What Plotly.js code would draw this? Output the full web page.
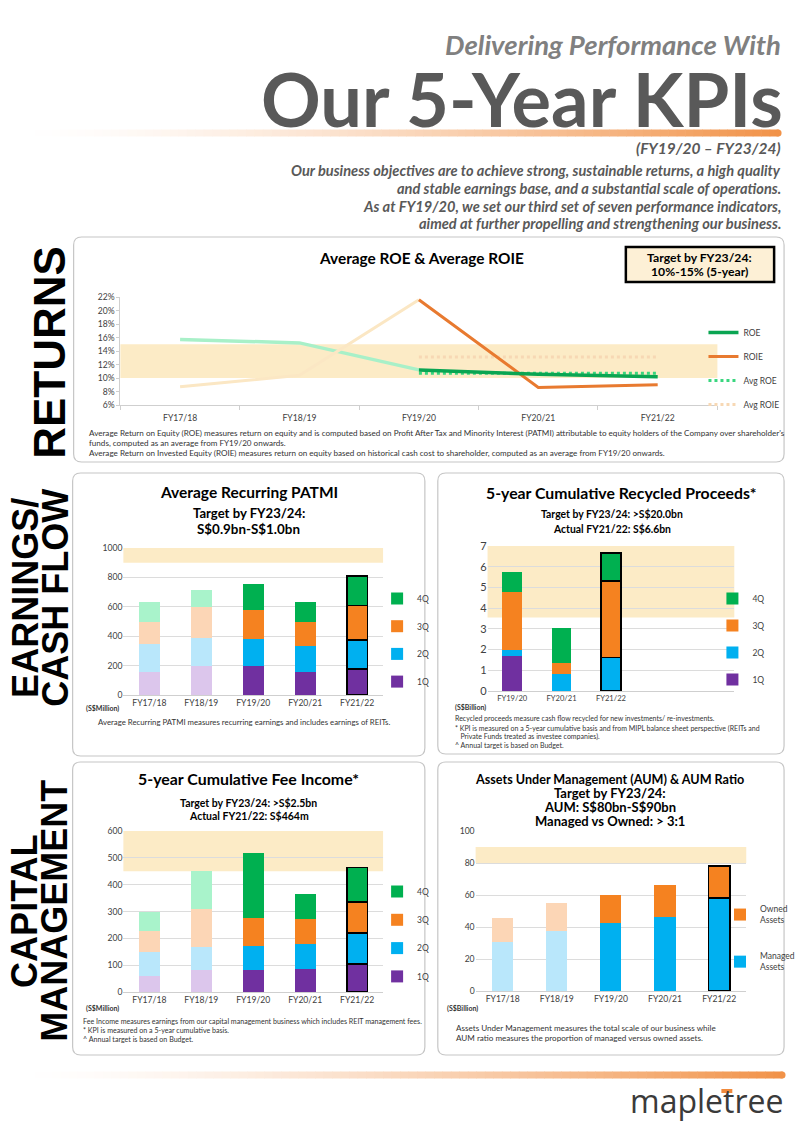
<!DOCTYPE html>
<html><head><meta charset="utf-8">
<script src="https://cdn.plot.ly/plotly-3.0.1.min.js"></script>
<style>html,body{margin:0;padding:0;background:#fff}#chart{width:800px;height:1132px}</style>
</head><body><div id="chart"></div>
<script>
// ---------------- DATA ----------------
const years = ['FY17/18','FY18/19','FY19/20','FY20/21','FY21/22'];
const roe = [15.7, 15.2, 11.2, 10.55, 10.2];
const roie = [8.7, 10.4, 21.6, 8.6, 9.0];
const avgRoe = [null, null, 10.7, 10.7, 10.7];
const avgRoie = [null, null, 13.1, 13.1, 13.1];
const roeTarget = [10, 15];

const patmi1Q = [159, 200, 198, 159, 175];
const patmi2Q = [189, 191, 182, 175, 200];
const patmi3Q = [152, 207, 200, 166, 234];
const patmi4Q = [132, 118, 175, 134, 202];
const patmiTarget = [900, 1000];

const recYears = ['FY19/20','FY20/21','FY21/22'];
const rec1Q = [1.69, 0, 0];
const rec2Q = [0.29, 0.82, 1.61];
const rec3Q = [2.79, 0.55, 3.70];
const rec4Q = [0.96, 1.67, 1.34];
const recTarget = [3.55, 7];

const fee1Q = [61, 83, 83, 87, 104];
const fee2Q = [88, 83, 87, 92, 115];
const fee3Q = [78, 144, 105, 94, 116];
const fee4Q = [73, 141, 243, 93, 129];
const feeTarget = [450, 600];

const aumManaged = [30.7, 37.4, 42.2, 46.3, 58.2];
const aumOwned = [15.2, 17.7, 17.7, 19.9, 20.1];
const aumTarget = [80, 90];

const histCount = 2; // years before the FY19/20 KPI period (drawn faded)

// ---------------- STYLE ----------------
const C = {
  q1:'#7030a0', q1l:'#dcc6ec', q2:'#00b0f0', q2l:'#b9e7fb',
  q3:'#f58220', q3l:'#fcd6b6', q4:'#00b050', q4l:'#a9f3cb',
  band:'#fcebc6', grid:'#dcdcdc', axis:'#cfcfcf', text:'#404040'
};
const W = 800, H = 1132;
const PX = x => x / W, PY = y => 1 - y / H;
const FONT = 'Lato, "Open Sans", sans-serif';

const shapes = [], annotations = [], traces = [];

function panel(x0, y0, x1, y1, r) {
  r = r || 8;
  const a = PX(x0), b = PX(x1), c = PY(y0), d = PY(y1), rx = r / W, ry = r / H;
  const path = `M${a+rx},${c} L${b-rx},${c} Q${b},${c} ${b},${c-ry} L${b},${d+ry} Q${b},${d} ${b-rx},${d} L${a+rx},${d} Q${a},${d} ${a},${d+ry} L${a},${c-ry} Q${a},${c} ${a+rx},${c} Z`;
  shapes.push({type:'path', xref:'paper', yref:'paper', path, line:{color:'#c6c6c6', width:1.2}, fillcolor:'rgba(0,0,0,0)', layer:'below'});
}
function band(xa, ya, rng) {
  shapes.push({type:'rect', xref:xa+' domain', yref:ya, x0:0, x1:1, y0:rng[0], y1:rng[1], fillcolor:C.band, line:{width:0}, layer:'below'});
}
function gradBar(x0, x1, yc, h) {
  const N = 90;
  for (let i = 0; i < N; i++) {
    const t = (i + 0.5) / N, a = Math.pow(t, 1.5);
    const r = Math.round(255 + (241 - 255) * a), g = Math.round(255 + (146 - 255) * a), b = Math.round(255 + (72 - 255) * a);
    shapes.push({type:'rect', xref:'paper', yref:'paper', x0:PX(x0 + (x1 - x0) * i / N), x1:PX(x0 + (x1 - x0) * (i + 1) / N + 0.6),
      y0:PY(yc + h / 2), y1:PY(yc - h / 2), fillcolor:`rgb(${r},${g},${b})`, line:{width:0}, layer:'below'});
  }
  shapes.push({type:'circle', xref:'paper', yref:'paper', x0:PX(x1 - h / 2), x1:PX(x1 + h / 2), y0:PY(yc + h / 2), y1:PY(yc - h / 2), fillcolor:'rgb(241,146,72)', line:{width:0}, layer:'below'});
}
function txt(text, x, y, o) {
  o = o || {};
  const xa = o.xa || 'center';
  annotations.push({xref:'paper', yref:'paper', x:PX(x), y:PY(y), text, showarrow:false,
    xanchor:xa, yanchor:o.ya || 'middle', align:o.align || (xa === 'center' ? 'center' : xa),
    textangle:o.angle || 0, borderpad:0,
    font:Object.assign({family:FONT, size:10, color:'#000'}, o.font || {})});
}
function stack(xa, ya, cats, series, legendId, nHist, width) {
  series.forEach((s, i) => {
    if (nHist > 0) traces.push({type:'bar', xaxis:xa, yaxis:ya, x:cats.slice(0, nHist), y:s.vals.slice(0, nHist), width,
      marker:{color:s.light, line:{width:0}}, showlegend:false, hoverinfo:'skip'});
    const cs = cats.slice(nHist), n = cs.length;
    traces.push({type:'bar', xaxis:xa, yaxis:ya, x:cs, y:s.vals.slice(nHist), width, name:s.name,
      legend:legendId, legendgroup:legendId + i, legendrank:series.length - i,
      marker:{color:s.dark, line:{color:'#000', width:cs.map((c, j) => j === n - 1 ? 1.6 : 0)}}});
  });
}

// ---------------- DECOR / TEXT ----------------
gradBar(18, 782, 133, 7);
gradBar(18, 786, 1075, 7);

txt('Delivering Performance With', 786, 45, {xa:'right', font:{size:27.5, color:'#808080', weight:'bold', style:'italic'}});
txt('Our 5-Year KPIs', 788, 99, {xa:'right', font:{size:74, color:'#595959', weight:'bold'}});
txt('(FY19/20 – FY23/24)', 786, 148, {xa:'right', font:{size:15.5, color:'#595959', weight:'bold', style:'italic'}});
const para = ['Our business objectives are to achieve strong, sustainable returns, a high quality',
  'and stable earnings base, and a substantial scale of operations.',
  'As at FY19/20, we set our third set of seven performance indicators,',
  'aimed at further propelling and strengthening our business.'];
const paraY = [171, 189, 207, 224];
para.forEach((p, i) => txt(p, 786, paraY[i], {xa:'right', font:{size:14.6, color:'#595959', weight:'bold', style:'italic'}}));

// side labels
const SIDE = '"Liberation Sans", Arial, sans-serif';
txt('RETURNS', 49, 352, {angle:-90, font:{family:SIDE, size:44, weight:'bold', color:'#000'}});
txt('EARNINGS/', 25, 598, {angle:-90, font:{family:SIDE, size:36, weight:'bold', color:'#000'}});
txt('CASH FLOW', 55, 598, {angle:-90, font:{family:SIDE, size:36, weight:'bold', color:'#000'}});
txt('CAPITAL', 25, 911, {angle:-90, font:{family:SIDE, size:36, weight:'bold', color:'#000'}});
txt('MANAGEMENT', 55, 911, {angle:-90, font:{family:SIDE, size:36, weight:'bold', color:'#000'}});

// panels
panel(74, 237, 788, 462);
panel(73, 473, 427, 756);
panel(440, 473, 788, 754);
panel(73, 762, 427, 1055);
panel(440, 762, 788, 1055);

// ---------- ROE chart ----------
band('x', 'y', roeTarget);
const sl = a => a.slice(0, histCount + 1), sd = a => a.slice(histCount);
traces.push({type:'scatter', mode:'lines', xaxis:'x', yaxis:'y', x:sl(years), y:sl(roe), line:{color:'#a8f0c8', width:3.5}, showlegend:false});
traces.push({type:'scatter', mode:'lines', xaxis:'x', yaxis:'y', x:sl(years), y:sl(roie), line:{color:'#fbe7c4', width:3}, showlegend:false});
traces.push({type:'scatter', mode:'lines', xaxis:'x', yaxis:'y', x:years, y:avgRoie, name:'Avg ROIE', legend:'legend', legendgroup:'g4', legendrank:4, line:{color:'#f7d8b4', width:3, dash:'dot'}});
traces.push({type:'scatter', mode:'lines', xaxis:'x', yaxis:'y', x:years, y:avgRoe, name:'Avg ROE', legend:'legend', legendgroup:'g3', legendrank:3, line:{color:'#3ad67f', width:3, dash:'dot'}});
traces.push({type:'scatter', mode:'lines', xaxis:'x', yaxis:'y', x:sd(years), y:sd(roie), name:'ROIE', legend:'legend', legendgroup:'g2', legendrank:2, line:{color:'#e87a30', width:3}});
traces.push({type:'scatter', mode:'lines', xaxis:'x', yaxis:'y', x:sd(years), y:sd(roe), name:'ROE', legend:'legend', legendgroup:'g1', legendrank:1, line:{color:'#0aa552', width:3.5}});

txt('Average ROE &amp; Average ROIE', 424, 258, {font:{size:15.4, weight:'bold'}});
shapes.push({type:'rect', xref:'paper', yref:'paper', x0:PX(629), x1:PX(778), y0:PY(282), y1:PY(247), fillcolor:'#fdf0d6', line:{color:'#000', width:2.5}});
txt('Target by FY23/24:', 703, 257, {font:{size:12.2, weight:'bold'}});
txt('10%-15% (5-year)', 703, 272, {font:{size:12.2, weight:'bold'}});
const roeNotes = ["Average Return on Equity (ROE) measures return on equity and is computed based on Profit After Tax and Minority Interest (PATMI) attributable to equity holders of the Company over shareholder's",
  'funds, computed as an average from FY19/20 onwards.',
  'Average Return on Invested Equity (ROIE) measures return on equity based on historical cash cost to shareholder, computed as an average from FY19/20 onwards.'];
[433, 443, 453].forEach((y, i) => txt(roeNotes[i], 88, y, {xa:'left', font:{size:8.1, color:'#333'}}));

// ---------- PATMI ----------
band('x2', 'y2', patmiTarget);
stack('x2', 'y2', years, [
  {name:'1Q', vals:patmi1Q, dark:C.q1, light:C.q1l},
  {name:'2Q', vals:patmi2Q, dark:C.q2, light:C.q2l},
  {name:'3Q', vals:patmi3Q, dark:C.q3, light:C.q3l},
  {name:'4Q', vals:patmi4Q, dark:C.q4, light:C.q4l}], 'legend2', histCount, 0.4);
txt('Average Recurring PATMI', 250, 492, {font:{size:15.5, weight:'bold'}});
txt('Target by FY23/24:', 250, 513, {font:{size:13.1, weight:'bold'}});
txt('S$0.9bn-S$1.0bn', 250, 529, {font:{size:13.4, weight:'bold'}});
txt('(S$Million)', 103, 708, {font:{size:7, weight:'bold', color:'#333'}});
txt('Average Recurring PATMI measures recurring earnings and includes earnings of REITs.', 245, 722, {font:{size:7.8, color:'#333'}});

// ---------- Recycled proceeds ----------
band('x3', 'y3', recTarget);
stack('x3', 'y3', recYears, [
  {name:'1Q', vals:rec1Q, dark:C.q1, light:C.q1l},
  {name:'2Q', vals:rec2Q, dark:C.q2, light:C.q2l},
  {name:'3Q', vals:rec3Q, dark:C.q3, light:C.q3l},
  {name:'4Q', vals:rec4Q, dark:C.q4, light:C.q4l}], 'legend3', 0, 0.4);
txt('5-year Cumulative Recycled Proceeds*', 625, 492, {font:{size:15.8, weight:'bold'}});
txt('Target by FY23/24: &gt;S$20.0bn', 615, 514, {font:{size:10.4, weight:'bold'}});
txt('Actual FY21/22: S$6.6bn', 615, 529, {font:{size:10.4, weight:'bold'}});
txt('(S$Billion)', 473, 707, {font:{size:7, weight:'bold', color:'#333'}});
const recNotes = ['Recycled proceeds measure cash flow recycled for new investments/ re-investments.',
  '* KPI is measured on a 5-year cumulative basis and from MIPL balance sheet perspective (REITs and',
  '   Private Funds treated as investee companies).',
  '^ Annual target is based on Budget.'];
[718, 728, 736.5, 745].forEach((y, i) => txt(recNotes[i], 456, y, {xa:'left', font:{size:7, color:'#333'}}));

// ---------- Fee income ----------
band('x4', 'y4', feeTarget);
stack('x4', 'y4', years, [
  {name:'1Q', vals:fee1Q, dark:C.q1, light:C.q1l},
  {name:'2Q', vals:fee2Q, dark:C.q2, light:C.q2l},
  {name:'3Q', vals:fee3Q, dark:C.q3, light:C.q3l},
  {name:'4Q', vals:fee4Q, dark:C.q4, light:C.q4l}], 'legend4', histCount, 0.4);
txt('5-year Cumulative Fee Income*', 250, 778, {font:{size:15.9, weight:'bold'}});
txt('Target by FY23/24: &gt;S$2.5bn', 250, 803, {font:{size:10.5, weight:'bold'}});
txt('Actual FY21/22: S$464m', 250, 816, {font:{size:10.5, weight:'bold'}});
txt('(S$Million)', 103, 1008, {font:{size:7, weight:'bold', color:'#333'}});
const feeNotes = ['Fee Income measures earnings from our capital management business which includes REIT management fees.',
  '* KPI is measured on a 5-year cumulative basis.',
  '^ Annual target is based on Budget.'];
[1021, 1030, 1039].forEach((y, i) => txt(feeNotes[i], 82, y, {xa:'left', font:{size:7.1, color:'#333'}}));

// ---------- AUM ----------
band('x5', 'y5', aumTarget);
stack('x5', 'y5', years, [
  {name:'Managed<br>Assets', vals:aumManaged, dark:C.q2, light:C.q2l},
  {name:'Owned<br>Assets', vals:aumOwned, dark:C.q3, light:C.q3l}], 'legend5', histCount, 0.39);
txt('Assets Under Management (AUM) &amp; AUM Ratio', 613, 779, {font:{size:12.6, weight:'bold'}});
txt('Target by FY23/24:', 613, 793, {font:{size:13, weight:'bold'}});
txt('AUM: S$80bn-S$90bn', 613, 807, {font:{size:13, weight:'bold'}});
txt('Managed vs Owned: &gt; 3:1', 613, 821, {font:{size:13, weight:'bold'}});
txt('(S$Billion)', 465, 1008, {font:{size:7, weight:'bold', color:'#333'}});
txt('Assets Under Management measures the total scale of our business while', 457, 1028, {xa:'left', font:{size:8.1, color:'#333'}});
txt('AUM ratio measures the proportion of managed versus owned assets.', 457, 1038, {xa:'left', font:{size:8.1, color:'#333'}});

// logo
txt('mapletree', 788, 1100, {xa:'right', font:{family:'"Open Sans", sans-serif', size:32, color:'#3a3a3a'}});
shapes.push({type:'rect', xref:'paper', yref:'paper', x0:PX(725), x1:PX(736), y0:PY(1093), y1:PY(1089), fillcolor:'#f08a3c', line:{width:0}});

// ---------------- AXES ----------------
const tickF = s => ({family:FONT, size:s, color:C.text});
function catAxis(d, anchor, cats, extra) {
  return Object.assign({domain:[PX(d[0]), PX(d[1])], anchor, type:'category', categoryorder:'array', categoryarray:cats,
    range:[-0.5, cats.length - 0.5], showline:true, linecolor:C.axis, linewidth:1, showgrid:false, zeroline:false, ticks:'',
    tickfont:tickF(8.6), fixedrange:true}, extra || {});
}
function valAxis(d, anchor, range, dtick, extra) {
  return Object.assign({domain:[PY(d[1]), PY(d[0])], anchor, range, dtick, tick0:0, showline:false, showgrid:true,
    gridcolor:C.grid, gridwidth:1, zeroline:false, ticks:'', tickfont:tickF(8.6), fixedrange:true}, extra || {});
}
function leg(x, y, gap) {
  return {x:PX(x), y:PY(y), xanchor:'left', yanchor:'top', bgcolor:'rgba(0,0,0,0)', borderwidth:0,
    font:{family:FONT, size:8.5, color:C.text}, traceorder:'grouped', tracegroupgap:gap, itemclick:false, itemdoubleclick:false};
}

const layout = {
  width:W, height:H, margin:{l:0, r:0, t:0, b:0}, paper_bgcolor:'#fff', plot_bgcolor:'rgba(0,0,0,0)',
  font:{family:FONT}, barmode:'stack', showlegend:true, shapes, annotations,
  xaxis: catAxis([121, 721], 'y', years, {ticks:'outside', tickson:'boundaries', ticklen:4, tickcolor:C.axis, tickfont:tickF(8.6), ticklabelstandoff:5}),
  yaxis: valAxis([297, 405], 'x', [6, 22], 2, {showgrid:false, showline:true, linecolor:C.axis, ticks:'outside', ticklen:3, tickcolor:C.axis, ticksuffix:'%', tickfont:tickF(8.6)}),
  xaxis2: catAxis([124, 385], 'y2', years),
  yaxis2: valAxis([548, 695], 'x2', [0, 1000], 200),
  xaxis3: catAxis([490, 738], 'y3', recYears, {range:[-0.5, 4.5], tickfont:tickF(7.6)}),
  yaxis3: valAxis([546, 691], 'x3', [0, 7], 1, {tickfont:tickF(11)}),
  xaxis4: catAxis([124, 385], 'y4', years),
  yaxis4: valAxis([831, 992], 'x4', [0, 600], 100),
  xaxis5: catAxis([478, 750], 'y5', years),
  yaxis5: valAxis([831, 991], 'x5', [0, 100], 20),
  legend: leg(707, 318, 5),
  legend2: leg(379, 584, 8.7),
  legend3: leg(716, 584, 8),
  legend4: leg(379, 877, 9.3),
  legend5: leg(724, 897, 22)
};

Plotly.newPlot('chart', traces, layout, {staticPlot:true, displayModeBar:false});
</script>
</body></html>
